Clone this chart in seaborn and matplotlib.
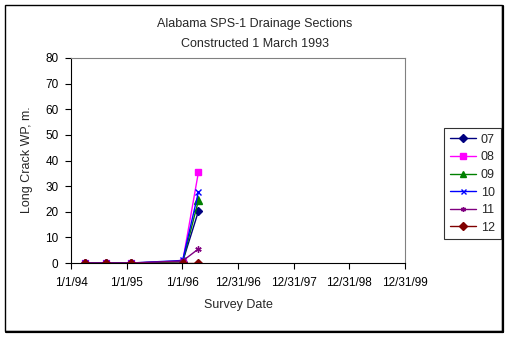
import matplotlib
matplotlib.use("Agg")
import matplotlib.pyplot as plt
import matplotlib.dates as mdates
import numpy as np
import pandas as pd
import seaborn as sns
from datetime import datetime, timedelta
from matplotlib.patches import Rectangle
from matplotlib.lines import Line2D

# Survey dates and longitudinal cracking (wheel path, m) per section
survey_dates = ["1994-04-03", "1994-08-19", "1995-01-30", "1996-01-03", "1996-04-16"]
sections = ["07", "08", "09", "10", "11", "12"]
s07 = [0.0, 0.0, 0.0, 0.5, 20.3]
s08 = [0.0, 0.0, 0.0, 0.5, 35.6]
s09 = [0.0, 0.0, 0.0, 0.5, 24.5]
s10 = [0.0, 0.0, 0.0, 1.0, 27.8]
s11 = [0.0, 0.0, 0.0, 0.8, 5.5]
s12 = [0.0, 0.0, 0.0, 0.0, 0.0]
series = [s07, s08, s09, s10, s11, s12]

colors = ["#000080", "#FF00FF", "#008000", "#0000FF", "#800080", "#800000"]
markers = ["D", "s", "^", "x", (6, 2, 0), "D"]
msizes = [4.5, 5, 5.5, 4.5, 4.5, 4.5]

rows = []
for name, vals in zip(sections, series):
    for d, v in zip(survey_dates, vals):
        rows.append({"date": pd.Timestamp(d), "section": name, "crack": v})
df = pd.DataFrame(rows)

sns.set_style("white")
plt.rcParams["font.family"] = ["Liberation Sans", "DejaVu Sans"]

W, H = 509, 337
fig = plt.figure(figsize=(W / 100, H / 100), dpi=100)
ax = fig.add_axes([71 / W, 1 - 263 / H, (405 - 71) / W, (263 - 58) / H])

for name, col, mk, ms in zip(sections, colors, markers, msizes):
    sub = df[df["section"] == name]
    sns.lineplot(data=sub, x="date", y="crack", ax=ax, color=col, marker=mk,
                 markersize=ms, markeredgecolor=col, markerfacecolor=col,
                 markeredgewidth=1.0, linewidth=1.0, label=name, legend=False)

start = datetime(1994, 1, 1)
ticks = [start + timedelta(days=365 * k) for k in range(7)]
tick_labels = [f"{t.month}/{t.day}/{t.strftime('%y')}" for t in ticks]
ax.set_xlim(mdates.date2num(ticks[0]), mdates.date2num(ticks[-1]))
ax.set_xticks([mdates.date2num(t) for t in ticks])
ax.set_xticklabels(tick_labels)
ax.set_ylim(0, 80)
ax.set_yticks(np.arange(0, 81, 10))

ax.tick_params(axis="both", direction="out", length=4, width=0.8, color="black",
               labelsize=8.5, labelcolor="black", bottom=True, left=True)
ax.tick_params(axis="x", pad=6)
ax.tick_params(axis="y", pad=5)
for side in ["left", "bottom"]:
    ax.spines[side].set_color("black")
    ax.spines[side].set_linewidth(0.8)
for side in ["top", "right"]:
    ax.spines[side].set_color("#808080")
    ax.spines[side].set_linewidth(0.8)
ax.grid(False)

ax.set_xlabel("")
ax.set_ylabel("")
fig.text(238 / W, 1 - 305 / H, "Survey Date", ha="center", va="center", fontsize=9)
fig.text(27 / W, 1 - 160 / H, "Long Crack WP, m.", ha="center", va="center",
         rotation=90, fontsize=9)
fig.text(255 / W, 1 - 24 / H, "Alabama SPS-1 Drainage Sections", ha="center",
         va="center", fontsize=9)
fig.text(255 / W, 1 - 44 / H, "Constructed 1 March 1993", ha="center",
         va="center", fontsize=9)

handles, labels = ax.get_legend_handles_labels()
leg = fig.legend(handles, labels, loc="upper left",
                 bbox_to_anchor=(444 / W, 1 - 128 / H), frameon=True,
                 fancybox=False, edgecolor="black", fontsize=9,
                 handlelength=2.1, handletextpad=0.4, labelspacing=0.45,
                 borderpad=0.45, borderaxespad=0, markerscale=0.8)
leg.get_frame().set_linewidth(0.8)

# Outer frame with drop shadow on the right and bottom
fig.patches.append(Rectangle((5 / W, 1 - 331 / H), (502 - 5) / W, (331 - 5) / H,
                             transform=fig.transFigure, fill=False,
                             edgecolor="black", linewidth=1.0))
fig.lines.append(Line2D([502.5 / W, 502.5 / W], [1 - 332 / H, 1 - 6 / H],
                        transform=fig.transFigure, color="black", linewidth=1.6))
fig.lines.append(Line2D([6 / W, 503 / W], [1 - 331.5 / H, 1 - 331.5 / H],
                        transform=fig.transFigure, color="black", linewidth=1.6))

fig.savefig("out.png", dpi=100)
